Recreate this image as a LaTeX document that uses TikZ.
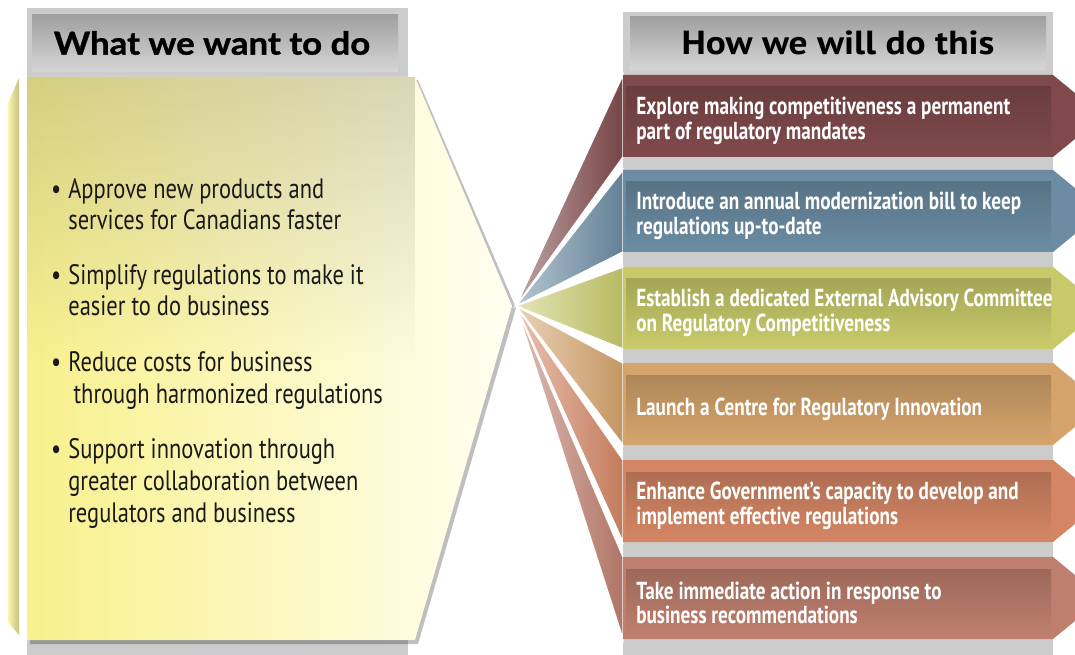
\documentclass[tikz,border=0pt]{standalone}
\usepackage{fontspec}
\usepackage{tikz}
\usepackage{xcolor}
\usetikzlibrary{positioning, fadings}
\newfontfamily\wantfont[FakeStretch=0.8]{PT Sans}
\newfontfamily\howfont[FakeStretch=0.78]{PT Sans}
\newfontfamily\headfont[FakeStretch=1.1, FakeBold=1.2]{Lato}
\newfontfamily\howheadfont[FakeStretch=1.12]{PT Sans}
\definecolor{cPanel}{RGB}{204,204,204}
\definecolor{cHeadTop}{RGB}{160,160,160}
\definecolor{cHeadBot}{RGB}{214,214,214}
\definecolor{cYellow}{RGB}{248,240,140}
\definecolor{cIvory}{RGB}{255,255,242}
\definecolor{cOlive}{RGB}{150,145,110}
\definecolor{cMaroon}{RGB}{128,74,76}
\definecolor{cSteel}{RGB}{107,140,163}
\definecolor{cLime}{RGB}{200,202,106}
\definecolor{cSand}{RGB}{213,164,108}
\definecolor{cCoral}{RGB}{212,134,100}
\definecolor{cRose}{RGB}{191,127,110}
\tikzfading[name=fadedown, top color=transparent!65, bottom color=transparent!100]
\tikzset{
	colbg/.style   ={fill=cPanel},
	headbg/.style  ={top color=cHeadTop, bottom color=cHeadBot},
	headtxt/.style ={font=\headfont\bfseries\fontsize{18}{20}\selectfont, text=black},
	wantitem/.style={anchor=base west, align=left, inner sep=0pt, font=\wantfont\fontsize{16}{18.2}\selectfont, text=black!90},
	howtxt/.style  ={anchor=west, align=left, inner sep=0pt, font=\howfont\bfseries\fontsize{14}{14}\selectfont, text=white},
}

\begin{document}
\begin{tikzpicture}[x=0.02cm, y=-0.02cm]
	\clip (0,0) rectangle (1075,655);
	\fill[white] (0,0) rectangle (1075,655);
	% left column: what we want to do
	\fill[colbg] (27,8) rectangle (408,655);
	\shade[headbg] (32,15) rectangle (398,72);
	\node[headtxt] (wanthead) at (212,43) {What we want to do};
	\shade[left color=cYellow!70!white, right color=cOlive!50!cYellow] (8,103) -- (19,78) -- (19,635) -- (8,622) -- cycle;
	\fill[black, opacity=0.25] (30,80) -- (418,80) -- (516,308) -- (418,644) -- (30,644) -- cycle;
	\shade[left color=cYellow, right color=cIvory] (27,77) -- (415,77) -- (512,306) -- (415,640) -- (27,640) -- cycle;
	\fill[cOlive, path fading=fadedown] (27,77) rectangle (415,360);
	% last-line baselines of the bullet items
	\foreach \j/\yy/\txt in {
		1/230/{Approve new products and\\services for Canadians faster},
		2/316/{Simplify regulations to make it\\easier to do business},
		3/403/{Reduce costs for business\\\hspace{3pt}through harmonized regulations},
		4/522/{Support innovation through\\greater collaboration between\\regulators and business}} {
		\node[wantitem] (want\j) at (68,\yy) {\llap{\textbullet\hspace{4pt}}\txt};
	}
	% right column: how we will do this
	\fill[colbg] (623,12) rectangle (1053,655);
	\shade[headbg] (630,17) rectangle (1046,70);
	\node[headtxt, font=\howheadfont\bfseries\fontsize{19}{20}\selectfont] (howhead) at (838,43) {How we will do this};
	\coordinate (fan) at (516,306);
	\foreach \i/\yt/\col/\txt in {
		1/75/cMaroon/{Explore making competitiveness a permanent\\part of regulatory mandates},
		2/170/cSteel/{Introduce an annual modernization bill to keep\\regulations up-to-date},
		3/267/cLime/{Establish a dedicated External Advisory Committee\\on Regulatory Competitiveness},
		4/363/cSand/{Launch a Centre for Regulatory Innovation},
		5/460/cCoral/{Enhance Government’s capacity to develop and\\implement effective regulations},
		6/557/cRose/{Take immediate action in response to\\business recommendations}} {
		\pgfmathsetmacro{\yb}{\yt+82}
		\pgfmathsetmacro{\ym}{\yt+41}
		\shade[left color=\col!50!white, right color=\col!92!black, draw=white, line width=0.8pt] (fan) -- (623,\yt) -- (623,\yb) -- cycle;
		\fill[\col] (623,\yt) -- (1053,\yt) -- (1103,\ym) -- (1053,\yb) -- (623,\yb) -- cycle;
		\shade[top color=\col!82!black, bottom color=\col] (626,\yt+12) rectangle (1051,\yb-3);
		\node[howtxt] (how\i) at (636,\ym+5) {\txt};
	}
\end{tikzpicture}
\end{document}
